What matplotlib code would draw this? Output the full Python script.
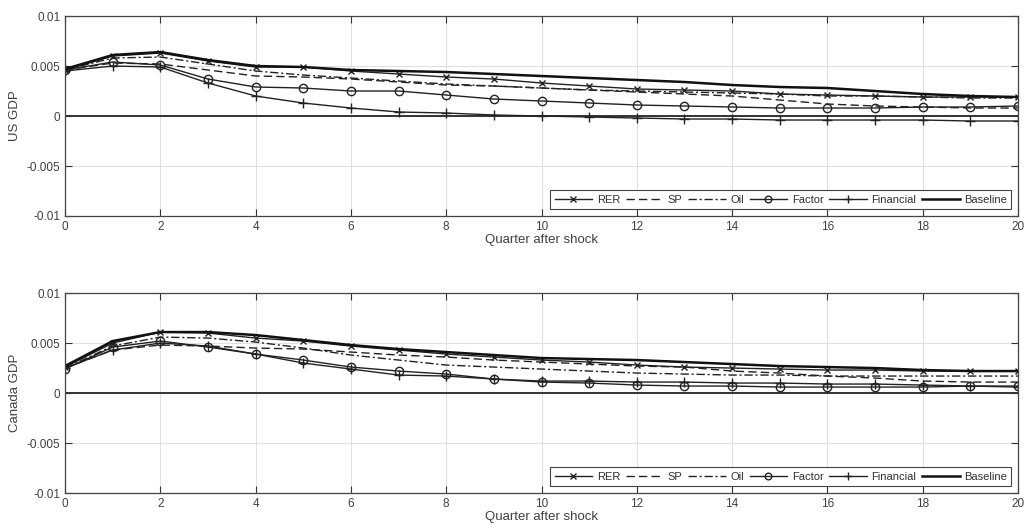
import matplotlib.pyplot as plt

plt.rcParams['font.family'] = ['Liberation Sans', 'DejaVu Sans']

quarters = list(range(21))

# ---------------- US GDP responses ----------------
us_rer = [0.0046, 0.0060, 0.0063, 0.0055, 0.0049, 0.0049, 0.0045, 0.0042, 0.0039, 0.0037,
          0.0033, 0.0030, 0.0027, 0.0026, 0.0025, 0.0022, 0.0021, 0.0020, 0.0019, 0.0019, 0.0019]
us_sp = [0.0046, 0.0053, 0.0052, 0.0046, 0.0040, 0.0039, 0.0037, 0.0034, 0.0031, 0.0030,
         0.0028, 0.0026, 0.0024, 0.0022, 0.0020, 0.0016, 0.0012, 0.0010, 0.0009, 0.0008, 0.0008]
us_oil = [0.0046, 0.0058, 0.0059, 0.0052, 0.0045, 0.0041, 0.0038, 0.0035, 0.0032, 0.0030,
          0.0028, 0.0026, 0.0025, 0.0024, 0.0023, 0.0022, 0.0020, 0.0020, 0.0019, 0.0018, 0.0018]
us_factor = [0.0046, 0.0054, 0.0051, 0.0037, 0.0029, 0.0028, 0.0025, 0.0025, 0.0021, 0.0017,
             0.0015, 0.0013, 0.0011, 0.0010, 0.0009, 0.0008, 0.0008, 0.0008, 0.0009, 0.0009, 0.0010]
us_fin = [0.0045, 0.0050, 0.0049, 0.0033, 0.0020, 0.0013, 0.0008, 0.0004, 0.0003, 0.0001,
          0.0000, -0.0001, -0.0002, -0.0003, -0.0003, -0.0004, -0.0004, -0.0004, -0.0004, -0.0005, -0.0005]
us_base = [0.0047, 0.0061, 0.0064, 0.0056, 0.0050, 0.0049, 0.0046, 0.0045, 0.0044, 0.0042,
           0.0040, 0.0038, 0.0036, 0.0034, 0.0031, 0.0029, 0.0028, 0.0025, 0.0022, 0.0020, 0.0019]

# ---------------- Canada GDP responses ----------------
ca_rer = [0.0026, 0.0050, 0.0061, 0.0060, 0.0055, 0.0052, 0.0047, 0.0043, 0.0039, 0.0036,
          0.0033, 0.0031, 0.0028, 0.0026, 0.0025, 0.0024, 0.0023, 0.0023, 0.0022, 0.0022, 0.0022]
ca_sp = [0.0025, 0.0043, 0.0048, 0.0047, 0.0045, 0.0044, 0.0041, 0.0038, 0.0036, 0.0033,
         0.0031, 0.0029, 0.0027, 0.0026, 0.0022, 0.0020, 0.0017, 0.0015, 0.0012, 0.0011, 0.0011]
ca_oil = [0.0025, 0.0047, 0.0056, 0.0055, 0.0051, 0.0045, 0.0038, 0.0033, 0.0028, 0.0026,
          0.0024, 0.0022, 0.0020, 0.0019, 0.0018, 0.0018, 0.0017, 0.0017, 0.0017, 0.0017, 0.0017]
ca_factor = [0.0024, 0.0046, 0.0052, 0.0046, 0.0039, 0.0033, 0.0026, 0.0022, 0.0019, 0.0014,
             0.0011, 0.0010, 0.0008, 0.0007, 0.0007, 0.0006, 0.0006, 0.0006, 0.0006, 0.0007, 0.0007]
ca_fin = [0.0025, 0.0043, 0.0050, 0.0047, 0.0039, 0.0030, 0.0024, 0.0018, 0.0017, 0.0014,
          0.0012, 0.0012, 0.0011, 0.0011, 0.0010, 0.0010, 0.0009, 0.0009, 0.0008, 0.0007, 0.0006]
ca_base = [0.0027, 0.0052, 0.0061, 0.0061, 0.0058, 0.0053, 0.0048, 0.0044, 0.0041, 0.0038,
           0.0035, 0.0034, 0.0033, 0.0031, 0.0029, 0.0027, 0.0026, 0.0025, 0.0023, 0.0022, 0.0022]

yticks = [-0.01, -0.005, 0, 0.005, 0.01]
ytick_labels = ['-0.01', '-0.005', '0', '0.005', '0.01']
xticks = list(range(0, 21, 2))

panels = [
    ('US GDP', us_rer, us_sp, us_oil, us_factor, us_fin, us_base),
    ('Canada GDP', ca_rer, ca_sp, ca_oil, ca_factor, ca_fin, ca_base),
]

fig = plt.figure(figsize=(10.26, 5.29), dpi=100)
positions = [[0.0634, 0.5917, 0.9288, 0.378], [0.0634, 0.068, 0.9288, 0.378]]
txt = '#404040'

for pos, (ylab, rer, sp, oil, fac, fin, base) in zip(positions, panels):
    ax = fig.add_axes(pos)
    ax.axhline(0, color='#333333', lw=1.4, zorder=1)
    ax.plot(quarters, rer, color='#222222', lw=1, marker='x', ms=5, mew=1, label='RER')
    ax.plot(quarters, sp, color='#222222', lw=1, ls=(0, (6, 3)), label='SP')
    ax.plot(quarters, oil, color='#222222', lw=1, ls=(0, (6, 2, 1.5, 2)), label='Oil')
    ax.plot(quarters, fac, color='#222222', lw=1, marker='o', ms=6, mfc='none', mew=1, label='Factor')
    ax.plot(quarters, fin, color='#222222', lw=1, marker='+', ms=7, mew=1, label='Financial')
    ax.plot(quarters, base, color='#111111', lw=1.8, label='Baseline')

    ax.set_xlim(0, 20)
    ax.set_ylim(-0.01, 0.01)
    ax.set_xticks(xticks)
    ax.set_yticks(yticks)
    ax.set_yticklabels(ytick_labels)
    ax.grid(True, color='#e0e0e0', lw=0.8)
    ax.set_axisbelow(True)
    ax.tick_params(direction='in', top=True, right=True, length=5, labelsize=8.5,
                   colors='#333333', labelcolor=txt, width=0.8)
    for s in ax.spines.values():
        s.set_color('#444444')
        s.set_linewidth(0.9)
    ax.set_ylabel(ylab, fontsize=9.5, color=txt, labelpad=4)
    ax.set_xlabel('Quarter after shock', fontsize=9.5, color=txt, labelpad=1)
    leg = ax.legend(loc='lower right', ncol=6, fontsize=8, frameon=True, fancybox=False,
                    edgecolor='#444444', framealpha=1, handlelength=3.4, handletextpad=0.4,
                    columnspacing=0.5, borderpad=0.4, borderaxespad=0.6, markerscale=0.8)
    leg.get_frame().set_linewidth(0.8)
    for t in leg.get_texts():
        t.set_color('#303030')

plt.savefig('out.png', dpi=100)
